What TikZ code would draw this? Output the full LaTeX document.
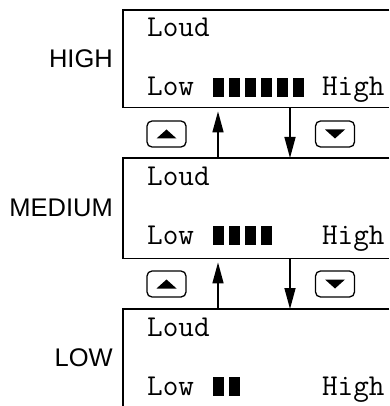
\documentclass[tikz,border=0pt]{standalone}
\usepackage{fontspec}
\setsansfont{Liberation Sans}
\usetikzlibrary{positioning,arrows.meta,calc}

\begin{document}
\begin{tikzpicture}[
        x=1pt, y=-1pt,
        % Styles
        panel/.style={rectangle, draw=none, minimum width=266pt, minimum height=97pt, anchor=north west, inner sep=0pt},
        level/.style={font=\sffamily\fontsize{25.5}{25.5}\selectfont, anchor=east, inner sep=0pt},
        lcd/.style={font=\ttfamily\fontsize{30.3}{30.3}\selectfont, anchor=base west, inner sep=0pt},
        keybtn/.style={rectangle, draw=black, line width=1.3pt, rounded corners=5pt, minimum width=39pt, minimum height=26pt, inner sep=0pt},
        frame/.style={line width=1.5pt},
        arrow/.style={line width=1.5pt, -{Triangle[length=21pt,width=11pt]}}
    ]
    \useasboundingbox (0,0) rectangle (389,406);

    % ================= DISPLAY PANELS =================
    \node[panel] (phigh) at (123,10) {};
    \node[panel, minimum height=100pt] (pmed) at (123,158) {};
    \node[panel] (plow) at (123,309) {};

    \draw[frame] (phigh.north east) -- (phigh.north west) -- (phigh.south west) -- (phigh.south east);
    \draw[frame] (pmed.north east) -- (pmed.north west) -- (pmed.south west) -- (pmed.south east);
    \draw[frame] (plow.north east) -- (plow.north west) -- (plow.south west);

    % Texts and level bars
    \foreach \p/\n/\lab in {phigh/6/HIGH, pmed/4/MEDIUM, plow/2/LOW} {
        \node[level, left=10pt of \p.west] (\p-lab) {\lab};
        \node[lcd] (\p-loud) at ($(\p.north west)+(24,27)$) {Loud};
        \node[lcd] (\p-low) at ($(\p.north west)+(24,86)$) {Low};
        \node[lcd] (\p-high) at ($(\p-low.base west)+(174.9,0)$) {High};
        \foreach \i in {1,...,\n}
            \fill ($(\p-low.base west)+(50.2+15.9*\i,1)$) rectangle ++(11,-19);
    }

    % ================= KEYS AND ARROWS =================
    \coordinate (ux) at (218,0);
    \coordinate (dx) at (290,0);
    \foreach \a/\b/\y in {phigh/pmed/134, pmed/plow/284} {
        \node[keybtn] (up-\a) at (166.5,\y) {};
        \node[keybtn] (dn-\a) at (335,\y) {};
        \fill ($(up-\a.center)+(-10,4.5)$) -- ++(20,0) -- ++(-10,-9) -- cycle;
        \fill ($(dn-\a.center)+(-10,-4.5)$) -- ++(20,0) -- ++(-10,9) -- cycle;
        \draw[arrow, shorten >=4pt] (\b.north -| ux) -- (\a.south -| ux);
        \draw[arrow] (\a.south -| dx) -- (\b.north -| dx);
    }

\end{tikzpicture}
\end{document}
